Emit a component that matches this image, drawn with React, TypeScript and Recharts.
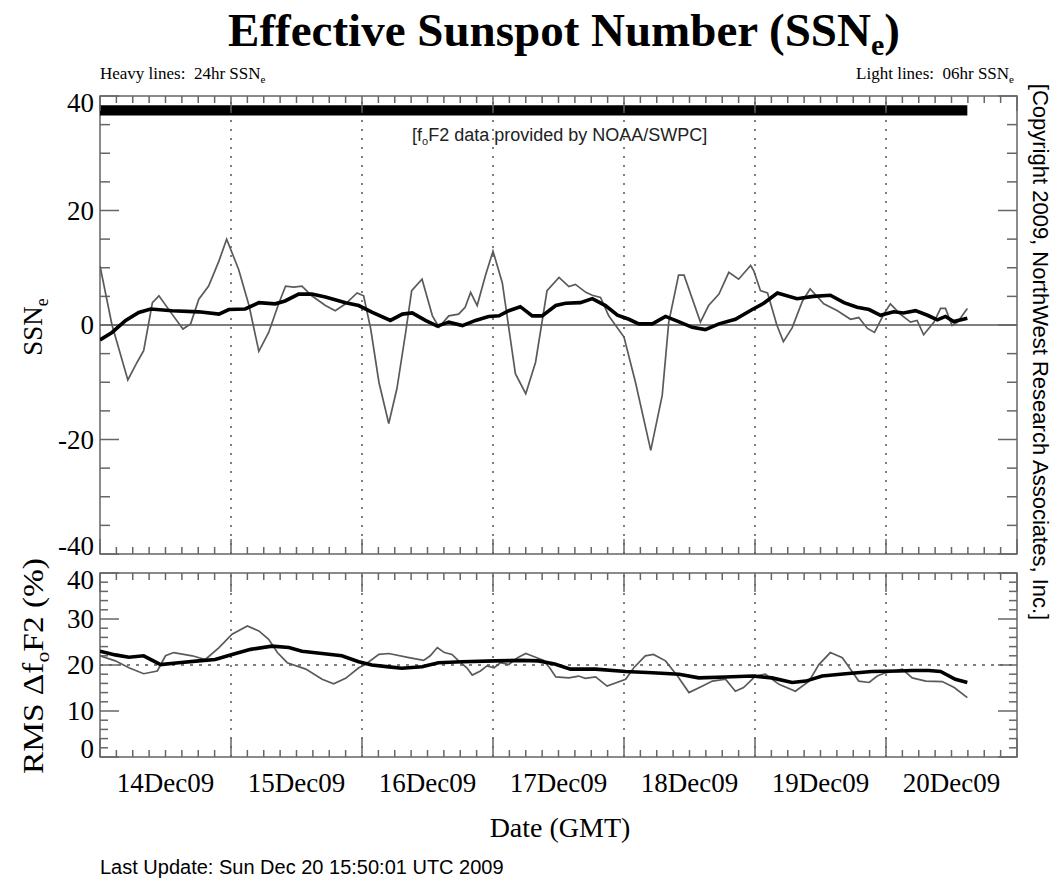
import React from "react";
import { LineChart, Line, XAxis, YAxis, ReferenceLine, ReferenceArea } from "recharts";

const serif = '"Liberation Serif", "Times New Roman", Times, serif';
const sans = '"Liberation Sans", Arial, Helvetica, sans-serif';

// hours counted from 14 Dec 2009 00:00 GMT
const ssn06Hours = [0, 2.2, 5.1, 6.8, 8.0, 9.6, 10.8, 13.2, 15.2, 16.6, 18.1, 19.9, 21.8, 23.2, 25.4, 27.3, 29.1, 30.9, 32.8, 34.0, 35.5, 37.0, 38.8, 41.3, 43.1, 45.0, 47.1, 48.3, 49.6, 51.1, 52.9, 54.4, 56.0, 57.1, 59.0, 60.9, 62.1, 63.9, 65.7, 66.9, 67.9, 69.1, 70.6, 72.0, 73.7, 76.1, 78.0, 79.8, 81.9, 84.1, 85.9, 87.1, 89.0, 90.2, 91.7, 93.2, 96.0, 98.1, 100.9, 103.0, 104.2, 106.0, 107.0, 110.0, 111.5, 113.4, 115.2, 117.0, 119.2, 119.8, 121.0, 122.3, 124.0, 125.2, 126.8, 128.7, 130.1, 132.6, 135.1, 137.5, 139.0, 140.6, 141.9, 143.6, 144.8, 146.6, 148.5, 149.7, 150.9, 152.8, 154.0, 154.9, 156.1, 157.1, 158.9];
const ssn06Values = [10.3, 0, -9.6, -6.5, -4.5, 3.9, 5.1, 1.9, -0.7, 0.2, 4.5, 6.8, 11.2, 15.0, 9.7, 3.4, -4.6, -1.3, 3.9, 6.8, 6.6, 6.8, 5.1, 3.4, 2.5, 3.7, 5.6, 5.1, -0.7, -10.0, -17.2, -11.1, -1.3, 6.0, 8.0, 1.6, -0.4, 1.6, 1.9, 3.1, 5.7, 3.4, 8.6, 12.9, 7.4, -8.5, -12.0, -6.5, 6.0, 8.3, 6.7, 7.1, 5.7, 5.2, 4.8, 1.6, -2.1, -10.0, -21.9, -12.3, 0.5, 8.7, 8.7, 0.5, 3.4, 5.4, 9.2, 8.0, 10.4, 9.4, 6.0, 5.6, 0, -2.9, -0.5, 4.2, 6.3, 3.7, 2.5, 1.0, 1.3, -0.6, -1.3, 1.9, 3.7, 1.9, 0.5, 0.8, -1.7, 0.5, 2.9, 2.9, -0.1, 0.5, 2.9];

const ssn24Hours = [0, 2.2, 4.7, 7.1, 9.3, 13.2, 18.1, 21.8, 23.6, 26.6, 29.1, 32.1, 33.9, 36.4, 38.8, 41.3, 45.0, 47.4, 49.9, 53.2, 55.4, 57.2, 59.6, 61.8, 63.9, 66.4, 68.8, 71.2, 73.1, 74.9, 77.0, 79.2, 81.0, 83.5, 85.3, 88.0, 90.2, 92.6, 94.8, 96.9, 98.7, 101.2, 103.6, 106.0, 108.5, 110.9, 113.4, 116.4, 119.5, 121.6, 124.1, 127.7, 130.7, 133.8, 136.3, 138.7, 140.9, 143.0, 145.4, 147.2, 149.4, 151.6, 153.4, 154.9, 156.4, 158.9];
const ssn24Values = [-2.6, -1.3, 0.8, 2.2, 2.8, 2.5, 2.3, 1.9, 2.7, 2.8, 3.9, 3.7, 4.2, 5.4, 5.4, 4.9, 3.9, 3.4, 2.2, 0.8, 1.9, 2.1, 0.8, -0.2, 0.5, -0.1, 0.8, 1.5, 1.6, 2.5, 3.2, 1.6, 1.6, 3.4, 3.8, 3.9, 4.6, 3.4, 1.7, 1.0, 0.2, 0.2, 1.5, 0.6, -0.4, -0.8, 0.2, 1.0, 2.7, 3.8, 5.6, 4.6, 5.0, 5.2, 3.9, 3.1, 2.7, 1.7, 2.3, 2.1, 2.5, 1.7, 0.9, 1.5, 0.6, 1.2];

const rms06Hours = [0, 2.8, 5.3, 8.0, 10.5, 12.0, 13.5, 16.9, 19.3, 21.8, 24.2, 27.0, 29.1, 30.9, 32.5, 34.3, 37.7, 40.7, 42.8, 45.0, 47.4, 48.6, 51.1, 52.9, 56.6, 59.3, 60.5, 61.8, 63.1, 64.5, 65.7, 67.2, 68.2, 69.7, 70.9, 72.2, 73.4, 74.9, 76.5, 78.0, 79.8, 81.3, 82.5, 83.5, 85.9, 87.7, 88.9, 90.8, 92.9, 96.3, 97.8, 99.9, 101.4, 103.6, 105.8, 107.9, 110.3, 112.2, 114.6, 116.4, 117.9, 120.1, 121.9, 124.4, 127.4, 129.9, 131.7, 133.8, 136.0, 137.5, 139.0, 140.9, 142.4, 143.9, 147.0, 148.8, 151.3, 154.3, 156.5, 158.9];
const rms06Values = [22.0, 20.9, 19.4, 18.1, 18.7, 22.0, 22.7, 22.0, 21.2, 23.8, 26.7, 28.5, 27.4, 25.6, 22.7, 20.5, 19.1, 16.9, 15.9, 17.1, 19.4, 20.1, 22.3, 22.5, 21.6, 21.0, 22.0, 23.8, 22.7, 22.3, 20.9, 19.4, 17.8, 18.7, 19.8, 19.4, 20.5, 20.1, 21.6, 22.5, 21.7, 21.0, 19.2, 17.4, 17.2, 17.6, 17.1, 17.4, 15.4, 16.9, 19.4, 22.0, 22.3, 20.9, 17.6, 14.0, 15.4, 16.5, 16.9, 14.3, 15.1, 17.6, 18.0, 15.8, 14.3, 16.5, 20.1, 22.7, 21.6, 19.1, 16.5, 16.2, 17.6, 18.3, 19.1, 17.2, 16.5, 16.4, 15.1, 12.9];

const rms24Hours = [0, 2.8, 5.3, 8.0, 11.1, 14.4, 18.1, 21.1, 24.2, 27.6, 31.5, 34.6, 37.0, 40.7, 44.3, 47.4, 49.8, 52.9, 55.3, 59.0, 62.0, 66.3, 72.4, 77.3, 80.3, 83.3, 86.2, 90.8, 96.3, 101.2, 106.1, 109.7, 114.6, 119.5, 123.1, 126.8, 129.3, 132.3, 136.6, 141.4, 146.3, 148.8, 151.8, 154.0, 156.7, 158.9];
const rms24Values = [23.0, 22.2, 21.7, 22.0, 20.1, 20.5, 20.9, 21.2, 22.3, 23.4, 24.1, 23.8, 23.0, 22.5, 22.0, 20.7, 20.0, 19.6, 19.3, 19.6, 20.5, 20.7, 20.9, 21.0, 20.9, 20.2, 19.1, 19.1, 18.6, 18.3, 18.0, 17.2, 17.4, 17.6, 17.2, 16.2, 16.5, 17.6, 18.1, 18.6, 18.7, 18.8, 18.8, 18.6, 16.9, 16.2];

const dayLabels = ["14Dec09", "15Dec09", "16Dec09", "17Dec09", "18Dec09", "19Dec09", "20Dec09"];
const dayLabelHours = [12, 36, 60, 84, 108, 132, 156];
const dayLines = [24, 48, 72, 96, 120, 144];
const dayTicks = [0, 24, 48, 72, 96, 120, 144, 168];
const hourTicks = Array.from({ length: 57 }, (_, i) => i * 3);

const ssnLabelTicks = [-40, -20, 0, 20, 40];
const ssnMinorTicks = [-40, -35, -30, -25, -20, -15, -10, -5, 0, 5, 10, 15, 20, 25, 30, 35, 40];
const rmsLabelTicks = [0, 10, 20, 30, 40];
const rmsMinorTicks = [0, 2, 4, 6, 8, 10, 12, 14, 16, 18, 20, 22, 24, 26, 28, 30, 32, 34, 36, 38, 40];

// black bar along the top of the SSN panel marks the hours with data
const coverageBar = [36.6, 38.4];

const PLOT_W = 917;
const toPoints = (hours: number[], values: number[]) => hours.map((h, i) => ({ h, v: values[i] }));

// inward tick marks on all four sides of a panel; lengths given in pixels
function frameTicks(lo: number, hi: number, plotH: number, minorY: number[], majorY: number[], yLen: number[], xLen: number[]) {
  const perY = plotH / (hi - lo);
  const perX = PLOT_W / 168;
  const segs: { x: number; y: number }[][] = [];
  hourTicks.forEach((h) => {
    const len = (dayTicks.includes(h) ? xLen[1] : xLen[0]) / perY;
    segs.push([{ x: h, y: lo }, { x: h, y: lo + len }]);
    segs.push([{ x: h, y: hi }, { x: h, y: hi - len }]);
  });
  minorY.forEach((v) => {
    const len = (majorY.includes(v) ? yLen[1] : yLen[0]) / perX;
    segs.push([{ x: 0, y: v }, { x: len, y: v }]);
    segs.push([{ x: 168, y: v }, { x: 168 - len, y: v }]);
  });
  return segs.map((s, i) => (
    <ReferenceLine key={`t${i}`} xAxisId="lab" yAxisId="v" segment={s} stroke="#666" strokeWidth={1.5} />
  ));
}

const yTick = (lo: number, hi: number) => (props: any) => {
  const { x, y, payload } = props;
  const v = payload.value;
  const shift = v === hi ? 7 : v === lo ? -8 : 0;
  return (
    <text x={x} y={y + shift} dy={9} textAnchor="end" fontFamily={serif} fontSize={27} fill="#000">
      {v}
    </text>
  );
};

const dateTick = (props: any) => {
  const { x, y, payload } = props;
  return (
    <text x={x} y={y} textAnchor="middle" fontFamily={serif} fontSize={27} fill="#000">
      {dayLabels[dayLabelHours.indexOf(payload.value)]}
    </text>
  );
};

const abs: React.CSSProperties = { position: "absolute", left: 0, top: 0 };

export default function App() {
  const ssn06 = toPoints(ssn06Hours, ssn06Values);
  const ssn24 = toPoints(ssn24Hours, ssn24Values);
  const rms06 = toPoints(rms06Hours, rms06Values);
  const rms24 = toPoints(rms24Hours, rms24Values);
  const lastHour = ssn06Hours[ssn06Hours.length - 1];

  return (
    <div style={{ position: "absolute", left: 0, top: 0, width: 1054, height: 882, background: "#fff" }}>
      <div style={abs}>
        <LineChart width={1054} height={882} margin={{ top: 96, right: 37, bottom: 328, left: 30 }}>
          <XAxis xAxisId="lab" dataKey="h" type="number" domain={[0, 168]} allowDataOverflow hide />
          <YAxis yAxisId="v" type="number" domain={[-40, 40]} allowDataOverflow width={70} ticks={ssnLabelTicks} interval={0} tickLine={false} axisLine={false} tickSize={0} tickMargin={6} tick={yTick(-40, 40)} />
          {dayLines.map((d) => (
            <ReferenceLine key={d} xAxisId="lab" yAxisId="v" x={d} stroke="#555" strokeWidth={1.5} strokeDasharray="2 7" />
          ))}
          <ReferenceLine xAxisId="lab" yAxisId="v" y={0} stroke="#555" strokeWidth={1.3} />
          {frameTicks(-40, 40, 458, ssnMinorTicks, ssnLabelTicks, [10, 19], [7, 15])}
          <ReferenceArea xAxisId="lab" yAxisId="v" x1={0} x2={168} y1={-40} y2={40} fill="none" stroke="#666" strokeWidth={1.5} />
          <Line xAxisId="lab" yAxisId="v" data={ssn06} dataKey="v" type="linear" stroke="#5a5a5a" strokeWidth={1.7} dot={false} isAnimationActive={false} />
          <Line xAxisId="lab" yAxisId="v" data={ssn24} dataKey="v" type="linear" stroke="#000" strokeWidth={3.6} dot={false} isAnimationActive={false} />
          <ReferenceArea xAxisId="lab" yAxisId="v" x1={0} x2={lastHour} y1={coverageBar[0]} y2={coverageBar[1]} fill="#000" fillOpacity={1} stroke="none" />
        </LineChart>
      </div>

      <div style={abs}>
        <LineChart width={1054} height={882} margin={{ top: 573, right: 37, bottom: 65, left: 30 }}>
          <XAxis xAxisId="lab" dataKey="h" type="number" domain={[0, 168]} allowDataOverflow height={60} ticks={dayLabelHours} interval={0} tickLine={false} axisLine={false} tickSize={0} tickMargin={35} tick={dateTick} />
          <YAxis yAxisId="v" type="number" domain={[0, 40]} allowDataOverflow width={70} ticks={rmsLabelTicks} interval={0} tickLine={false} axisLine={false} tickSize={0} tickMargin={6} tick={yTick(0, 40)} />
          {dayLines.map((d) => (
            <ReferenceLine key={d} xAxisId="lab" yAxisId="v" x={d} stroke="#555" strokeWidth={1.5} strokeDasharray="2 7" />
          ))}
          <ReferenceLine xAxisId="lab" yAxisId="v" y={20} stroke="#555" strokeWidth={1.3} strokeDasharray="3 6" />
          {frameTicks(0, 40, 184, rmsMinorTicks, rmsLabelTicks, [8, 19], [7, 19])}
          <ReferenceArea xAxisId="lab" yAxisId="v" x1={0} x2={168} y1={0} y2={40} fill="none" stroke="#666" strokeWidth={1.5} />
          <Line xAxisId="lab" yAxisId="v" data={rms06} dataKey="v" type="linear" stroke="#5a5a5a" strokeWidth={1.7} dot={false} isAnimationActive={false} />
          <Line xAxisId="lab" yAxisId="v" data={rms24} dataKey="v" type="linear" stroke="#000" strokeWidth={3.6} dot={false} isAnimationActive={false} />
        </LineChart>
      </div>

      <svg width={1054} height={882} style={{ ...abs, pointerEvents: "none" }}>
        <text x={564} y={46} textAnchor="middle" fontFamily={serif} fontWeight="bold" fontSize={47} fill="#000">
          Effective Sunspot Number (SSN<tspan fontSize={30} dy={9}>e</tspan><tspan dy={-9}>)</tspan>
        </text>
        <text x={100} y={79} fontFamily={serif} fontSize={17} fill="#000">
          Heavy lines:{"\u00a0\u00a0"}24hr SSN<tspan fontSize={11} dy={4}>e</tspan>
        </text>
        <text x={1014} y={79} textAnchor="end" fontFamily={serif} fontSize={17} fill="#000">
          Light lines:{"\u00a0\u00a0"}06hr SSN<tspan fontSize={11} dy={4}>e</tspan>
        </text>
        <text x={412} y={141} fontFamily={sans} fontSize={18} fill="#222">
          [f<tspan fontSize={11} dy={4}>o</tspan><tspan dy={-4}>F2 data provided by NOAA/SWPC]</tspan>
        </text>
        <text transform="translate(42,327) rotate(-90)" textAnchor="middle" fontFamily={serif} fontSize={27} fill="#000">
          SSN<tspan fontSize={18} dy={6}>e</tspan>
        </text>
        <text transform="translate(43,666) rotate(-90)" textAnchor="middle" fontFamily={serif} fontSize={29} textLength={216} lengthAdjust="spacingAndGlyphs" fill="#000">
          RMS Δf<tspan fontSize={19} dy={6}>o</tspan><tspan dy={-6}>F2 (%)</tspan>
        </text>
        <text transform="translate(1033,352) rotate(90)" textAnchor="middle" fontFamily={sans} fontSize={22} fill="#000">
          [Copyright 2009, NorthWest Research Associates, Inc.]
        </text>
        <text x={560} y={837} textAnchor="middle" fontFamily={serif} fontSize={28} fill="#000">
          Date (GMT)
        </text>
        <text x={100} y={874} fontFamily={sans} fontSize={20} fill="#000">
          Last Update: Sun Dec 20 15:50:01 UTC 2009
        </text>
      </svg>
    </div>
  );
}
